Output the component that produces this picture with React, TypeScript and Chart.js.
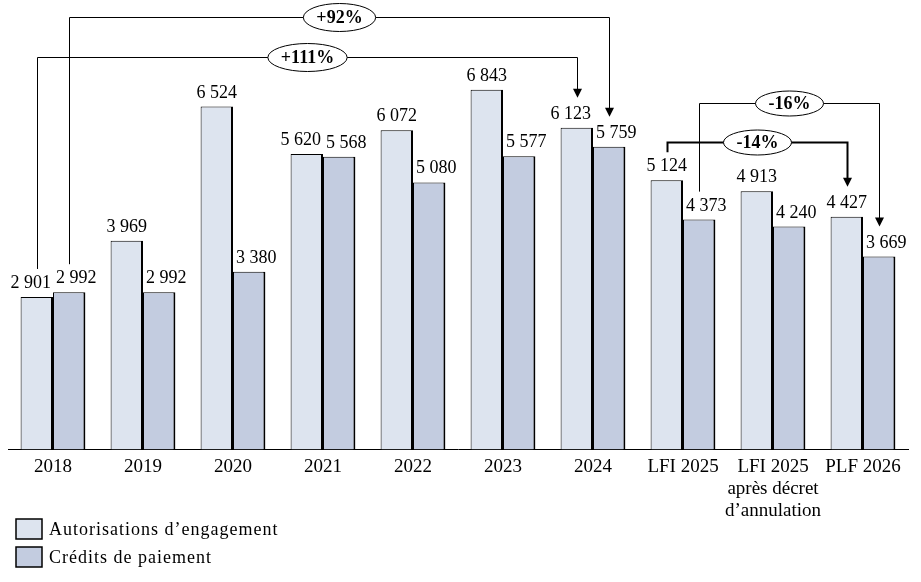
import { useEffect, useRef } from "react";
import { Chart, registerables } from "chart.js";

Chart.register(...registerables);

const categories: (string | string[])[] = [
  "2018",
  "2019",
  "2020",
  "2021",
  "2022",
  "2023",
  "2024",
  "LFI 2025",
  ["LFI 2025", "après décret", "d’annulation"],
  "PLF 2026",
];
const autorisations = [2901, 3969, 6524, 5620, 6072, 6843, 6123, 5124, 4913, 4427];
const credits = [2992, 2992, 3380, 5568, 5080, 5577, 5759, 4373, 4240, 3669];
const seriesNames = ["Autorisations d’engagement", "Crédits de paiement"];
const seriesColors = ["#dde4ef", "#c3cce0"];

// evolution brackets: [category index, dataset index] from -> to, level on value scale
const changeLabels = ["+92%", "+111%", "-16%", "-14%"];
const changeFrom = [[0, 1], [0, 0], [7, 1], [7, 0]];
const changeTo = [[6, 1], [6, 0], [9, 1], [9, 0]];
const changeLevels = [8220, 7462, 6591, 5852];

const FONT = "'Liberation Serif', 'Times New Roman', serif";

const fmt = (v: number) => String(v).replace(/\B(?=(\d{3})+(?!\d))/g, " ");

const overlayPlugin = {
  id: "overlay",
  afterDatasetsDraw(chart: any) {
    const ctx = chart.ctx as CanvasRenderingContext2D;
    const m0 = chart.getDatasetMeta(0);
    const m1 = chart.getDatasetMeta(1);
    ctx.save();
    ctx.fillStyle = "#000";
    ctx.font = `18px ${FONT}`;
    ctx.textBaseline = "alphabetic";
    for (let i = 0; i < categories.length; i++) {
      const b0 = m0.data[i];
      const b1 = m1.data[i];
      const t1 = fmt(credits[i]);
      const x1 = b1.x - b1.width / 2 + 3;
      ctx.textAlign = "left";
      ctx.fillText(t1, x1, b1.y - 9);
      const t0 = fmt(autorisations[i]);
      const w0 = ctx.measureText(t0).width;
      let cx = b0.x;
      if (cx + w0 / 2 > x1 - 4 && Math.abs(b0.y - b1.y) < 22) {
        cx = x1 - 5 - w0 / 2;
      }
      ctx.textAlign = "center";
      ctx.fillText(t0, cx, b0.y - 9);
    }
    ctx.restore();
  },
  afterDraw(chart: any) {
    const ctx = chart.ctx as CanvasRenderingContext2D;
    const yScale = chart.scales.y;
    ctx.save();
    // brackets
    for (let k = 0; k < changeLabels.length; k++) {
      const [fi, fd] = changeFrom[k];
      const [ti, td] = changeTo[k];
      const bf = chart.getDatasetMeta(fd).data[fi];
      const bt = chart.getDatasetMeta(td).data[ti];
      const ly = Math.round(yScale.getPixelForValue(changeLevels[k])) + 0.5;
      const xs = Math.round(bf.x) + 0.5;
      const xe = Math.round(bt.x) + 0.5;
      const ys = bf.y - 28;
      const tip = bt.y - 30;
      ctx.strokeStyle = "#000";
      ctx.lineWidth = k === 3 ? 2 : 1;
      ctx.beginPath();
      ctx.moveTo(xs, ys);
      ctx.lineTo(xs, ly);
      ctx.lineTo(xe, ly);
      ctx.lineTo(xe, tip - 8);
      ctx.stroke();
      ctx.fillStyle = "#000";
      ctx.beginPath();
      ctx.moveTo(xe - 4.5, tip - 9);
      ctx.lineTo(xe + 4.5, tip - 9);
      ctx.lineTo(xe, tip);
      ctx.closePath();
      ctx.fill();
      // ellipse label
      ctx.font = `bold 18px ${FONT}`;
      const tw = ctx.measureText(changeLabels[k]).width;
      const cx = (xs + xe) / 2;
      const rw = tw / 2 + 13;
      const rh = k < 2 ? 14 : 12.5;
      ctx.beginPath();
      ctx.ellipse(cx, ly, rw, rh, 0, 0, Math.PI * 2);
      ctx.fillStyle = "#fff";
      ctx.fill();
      ctx.lineWidth = 1;
      ctx.stroke();
      ctx.fillStyle = "#000";
      ctx.textAlign = "center";
      ctx.textBaseline = "middle";
      ctx.fillText(changeLabels[k], cx, ly + 1);
    }
    // legend
    const boxY = [519, 547];
    ctx.font = `18px ${FONT}`;
    (ctx as any).letterSpacing = "1px";
    ctx.textAlign = "left";
    ctx.textBaseline = "middle";
    for (let s = 0; s < seriesNames.length; s++) {
      ctx.fillStyle = seriesColors[s];
      ctx.fillRect(16, boxY[s], 26, 20);
      ctx.strokeStyle = "#000";
      ctx.lineWidth = 1.5;
      ctx.strokeRect(16, boxY[s], 26, 20);
      ctx.fillStyle = "#000";
      ctx.fillText(seriesNames[s], 49, boxY[s] + 11);
    }
    (ctx as any).letterSpacing = "0px";
    ctx.restore();
  },
};

export default function App() {
  const ref = useRef<HTMLCanvasElement | null>(null);
  useEffect(() => {
    if (!ref.current) return;
    const border = { top: 1, left: 1, right: 2, bottom: 0 };
    const chart = new Chart(ref.current, {
      type: "bar",
      data: {
        labels: categories,
        datasets: [
          {
            label: seriesNames[0],
            data: autorisations,
            backgroundColor: seriesColors[0],
            borderColor: "#000",
            borderWidth: border,
            categoryPercentage: 0.72,
            barPercentage: 1,
          },
          {
            label: seriesNames[1],
            data: credits,
            backgroundColor: seriesColors[1],
            borderColor: "#000",
            borderWidth: border,
            categoryPercentage: 0.72,
            barPercentage: 1,
          },
        ],
      },
      options: {
        responsive: true,
        maintainAspectRatio: false,
        animation: false,
        layout: { padding: { left: 8, right: 13, top: 29, bottom: 53 } },
        plugins: { legend: { display: false }, tooltip: { enabled: false } },
        scales: {
          x: {
            grid: { display: false, drawTicks: false },
            border: { display: true, color: "#000", width: 1 },
            ticks: {
              color: "#000",
              font: { family: FONT, size: 19, lineHeight: 1.15 },
              padding: 7,
              maxRotation: 0,
              autoSkip: false,
            },
          },
          y: { display: false, min: 0, max: 8000 },
        },
      },
      plugins: [overlayPlugin],
    } as any);
    return () => chart.destroy();
  }, []);
  return (
    <div style={{ position: "fixed", left: 0, top: 0, width: 921, height: 582, background: "#fff" }}>
      <canvas ref={ref} />
    </div>
  );
}
